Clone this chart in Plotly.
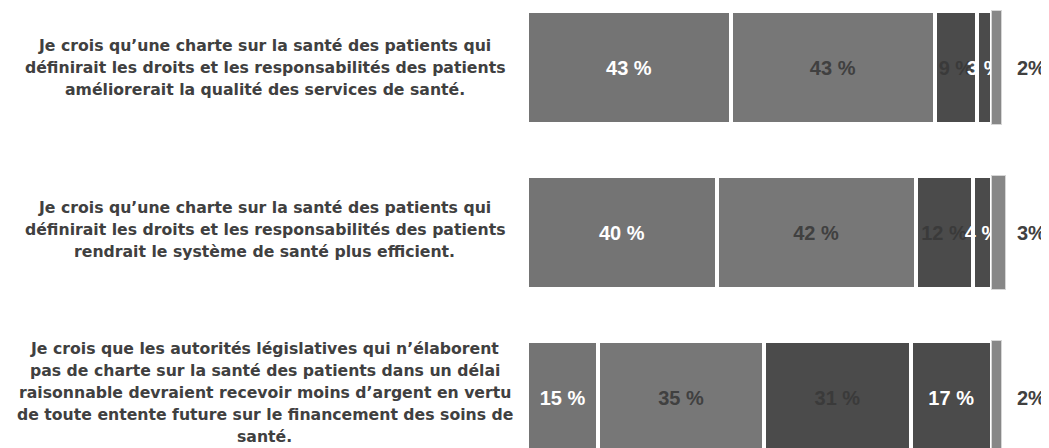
import plotly.graph_objects as go

questions = [
    "Je crois qu’une charte sur la santé des patients qui<br>définirait les droits et les responsabilités des patients<br>améliorerait la qualité des services de santé.",
    "Je crois qu’une charte sur la santé des patients qui<br>définirait les droits et les responsabilités des patients<br>rendrait le système de santé plus efficient.",
    "Je crois que les autorités législatives qui n’élaborent<br>pas de charte sur la santé des patients dans un délai<br>raisonnable devraient recevoir moins d’argent en vertu<br>de toute entente future sur le financement des soins de<br>santé.",
]
y_pos = [0, 1, 2]

seg1 = [43, 40, 15]
seg2 = [43, 42, 35]
seg3 = [9, 12, 31]
seg4 = [3, 4, 17]
seg5 = [2, 3, 2]
outside_labels = ["2%", "3%", "2%"]

segments = [seg1, seg2, seg3, seg4, seg5]
seg_colors = ["#747474", "#777777", "#4b4b4b", "#4b4b4b", "#878787"]
text_colors = ["#ffffff", "#404040", "#3a3a3a", "#ffffff", "#404040"]
line_colors = ["#ffffff", "#ffffff", "#ffffff", "#ffffff", "#d6d6d6"]
line_widths = [4, 4, 4, 4, 1]

FONT = "Liberation Sans, Arial, sans-serif"
LABEL_FONT = "DejaVu Sans, sans-serif"

fig = go.Figure()
for i, vals in enumerate(segments):
    show_text = i < 4
    fig.add_trace(go.Bar(
        y=y_pos, x=vals, orientation="h", width=0.685,
        marker=dict(color=seg_colors[i], line=dict(color=line_colors[i], width=line_widths[i])),
        text=[f"{v} %" for v in vals] if show_text else None,
        textposition="inside" if show_text else "none",
        insidetextanchor="middle",
        textangle=0,
        constraintext="none",
        cliponaxis=False,
        textfont=dict(family=FONT, size=20, color=text_colors[i], weight="bold"),
        hoverinfo="skip",
        showlegend=False,
    ))

for yp, lab in zip(y_pos, outside_labels):
    fig.add_annotation(x=106.4, y=yp, xref="x", yref="y", text=f"<b>{lab}</b>",
                       showarrow=False, xanchor="center", yanchor="middle",
                       font=dict(family=FONT, size=20, color="#404040"))

LINE_PX = 22
label_shift = [0, 3, 5]
for yp, q, sh in zip(y_pos, questions, label_shift):
    lines = q.split("<br>")
    n = len(lines)
    for k, ln in enumerate(lines):
        fig.add_annotation(x=-0.502, y=yp, xref="paper", yref="y", text=f"<b>{ln}</b>",
                           showarrow=False, xanchor="center", yanchor="middle", align="center",
                           yshift=sh + ((n - 1) / 2 - k) * LINE_PX,
                           font=dict(family=LABEL_FONT, size=15.7, color="#404040"))

fig.update_layout(
    barmode="stack",
    width=1041, height=440,
    margin=dict(l=519, r=0, t=0, b=0),
    paper_bgcolor="white", plot_bgcolor="white",
    xaxis=dict(range=[0, 522 / 4.74], visible=False, fixedrange=True),
    yaxis=dict(range=[2.306, -0.3606], visible=False, fixedrange=True),
)

fig.write_html("out.html")
